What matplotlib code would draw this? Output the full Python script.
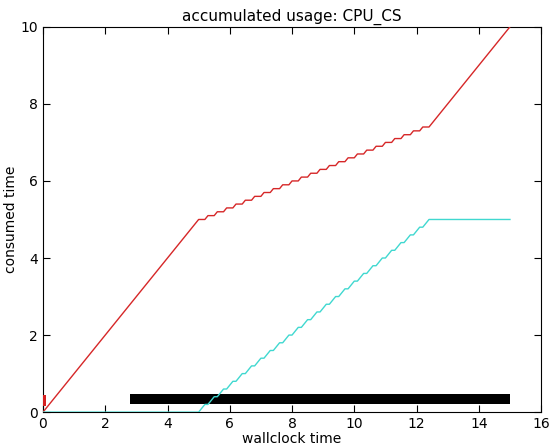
import matplotlib
matplotlib.use("Agg")
import matplotlib.pyplot as plt

# accumulated cpu time of the two tasks (breakpoints)
red_t = [0.0, 5.0,
         5.2, 5.3, 5.5, 5.6, 5.8, 5.9, 6.1, 6.2, 6.4, 6.5,
         6.7, 6.8, 7.0, 7.1, 7.3, 7.4, 7.6, 7.7, 7.9, 8.0,
         8.2, 8.3, 8.5, 8.6, 8.8, 8.9, 9.1, 9.2, 9.4, 9.5,
         9.7, 9.8, 10.0, 10.1, 10.3, 10.4, 10.6, 10.7, 10.9, 11.0,
         11.2, 11.3, 11.5, 11.6, 11.8, 11.9, 12.1, 12.2, 12.4, 12.5,
         15.0]
red_v = [0.0, 5.0,
         5.0, 5.1, 5.1, 5.2, 5.2, 5.3, 5.3, 5.4, 5.4, 5.5,
         5.5, 5.6, 5.6, 5.7, 5.7, 5.8, 5.8, 5.9, 5.9, 6.0,
         6.0, 6.1, 6.1, 6.2, 6.2, 6.3, 6.3, 6.4, 6.4, 6.5,
         6.5, 6.6, 6.6, 6.7, 6.7, 6.8, 6.8, 6.9, 6.9, 7.0,
         7.0, 7.1, 7.1, 7.2, 7.2, 7.3, 7.3, 7.4, 7.4, 7.5,
         10.0]

cyan_t = [0.0, 5.0,
          5.2, 5.3, 5.5, 5.6, 5.8, 5.9, 6.1, 6.2, 6.4, 6.5,
          6.7, 6.8, 7.0, 7.1, 7.3, 7.4, 7.6, 7.7, 7.9, 8.0,
          8.2, 8.3, 8.5, 8.6, 8.8, 8.9, 9.1, 9.2, 9.4, 9.5,
          9.7, 9.8, 10.0, 10.1, 10.3, 10.4, 10.6, 10.7, 10.9, 11.0,
          11.2, 11.3, 11.5, 11.6, 11.8, 11.9, 12.1, 12.2, 12.4,
          15.0]
cyan_v = [0.0, 0.0,
          0.2, 0.2, 0.4, 0.4, 0.6, 0.6, 0.8, 0.8, 1.0, 1.0,
          1.2, 1.2, 1.4, 1.4, 1.6, 1.6, 1.8, 1.8, 2.0, 2.0,
          2.2, 2.2, 2.4, 2.4, 2.6, 2.6, 2.8, 2.8, 3.0, 3.0,
          3.2, 3.2, 3.4, 3.4, 3.6, 3.6, 3.8, 3.8, 4.0, 4.0,
          4.2, 4.2, 4.4, 4.4, 4.6, 4.6, 4.8, 4.8, 5.0,
          5.0]

# activity bars near the bottom: (start, length)
red_bar = [(0.0, 0.09)]
black_bar = [(2.8, 12.2)]

fig = plt.figure(figsize=(5.51, 4.47), dpi=100)
ax = fig.add_axes([0.078, 0.078, 0.904, 0.862])

ax.broken_barh(red_bar, (0.15, 0.3), facecolors='#d62020', edgecolor='none', zorder=3)
ax.broken_barh(black_bar, (0.22, 0.24), facecolors='black', edgecolor='none', zorder=3)
ax.plot(red_t, red_v, color='#d62728', lw=1, zorder=3)
ax.plot(cyan_t, cyan_v, color='#40d8d0', lw=1, zorder=3)

ax.set_xlim(0, 16)
ax.set_ylim(0, 10)
ax.set_xticks(range(0, 17, 2))
ax.set_yticks(range(0, 11, 2))
ax.tick_params(direction='in', top=True, right=True, length=5, labelsize=10)
ax.set_title('accumulated usage: CPU_CS', fontsize=11, pad=4)
ax.set_xlabel('wallclock time', fontsize=10, labelpad=1)
ax.set_ylabel('consumed time', fontsize=10, labelpad=2)

fig.savefig('out.png', dpi=100)
